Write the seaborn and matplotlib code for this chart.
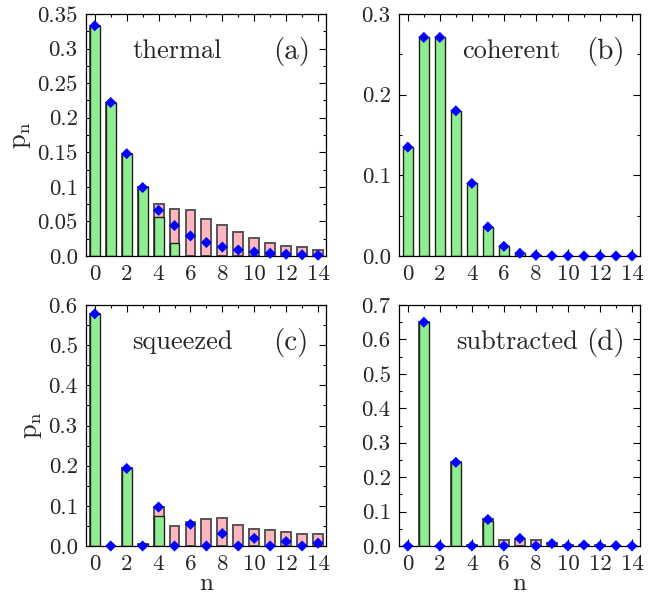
import matplotlib
matplotlib.use("Agg")
import matplotlib.pyplot as plt
import seaborn as sns
import numpy as np
import pandas as pd
from matplotlib.ticker import MultipleLocator, FuncFormatter

sns.set_theme(style="white")
plt.rcParams['font.family'] = ['cmr10', 'DejaVu Serif']
plt.rcParams['mathtext.fontset'] = 'cm'
plt.rcParams['axes.formatter.use_mathtext'] = True

n = list(range(15))

# (a) thermal
thermal_green = [0.333, 0.222, 0.148, 0.100, 0.057, 0.019, 0, 0, 0, 0, 0, 0, 0, 0, 0]
thermal_pink = [0.333, 0.222, 0.148, 0.100, 0.075, 0.068, 0.066, 0.054, 0.045, 0.035, 0.026, 0.019, 0.015, 0.013, 0.009]
thermal_diam = [0.333, 0.222, 0.148, 0.099, 0.066, 0.044, 0.029, 0.0195, 0.013, 0.0087, 0.0058, 0.0039, 0.0026, 0.0017, 0.0011]

# (b) coherent
coherent_green = [0.135, 0.271, 0.271, 0.180, 0.090, 0.036, 0.012, 0.0034, 0.0009, 0.0002, 0, 0, 0, 0, 0]
coherent_pink = [0] * 15
coherent_diam = [0.135, 0.271, 0.271, 0.180, 0.090, 0.036, 0.012, 0.0034, 0.0009, 0.0002, 0.00004, 0, 0, 0, 0]

# (c) squeezed
squeezed_green = [0.578, 0, 0.193, 0.004, 0.075, 0, 0, 0, 0, 0, 0, 0, 0, 0, 0]
squeezed_pink = [0.578, 0, 0.193, 0.004, 0.097, 0.051, 0.060, 0.066, 0.069, 0.053, 0.043, 0.039, 0.036, 0.031, 0.029]
squeezed_diam = [0.578, 0, 0.193, 0, 0.097, 0, 0.054, 0, 0.031, 0, 0.019, 0, 0.011, 0, 0.007]

# (d) subtracted
subtracted_green = [0, 0.650, 0, 0.243, 0.002, 0.073, 0, 0, 0, 0, 0, 0, 0, 0, 0]
subtracted_pink = [0, 0.650, 0, 0.243, 0.002, 0.077, 0.018, 0.021, 0.018, 0.008, 0.004, 0.003, 0.002, 0.001, 0.0005]
subtracted_diam = [0, 0.650, 0, 0.243, 0, 0.077, 0, 0.022, 0, 0.007, 0, 0.003, 0, 0.001, 0]

panels = [
    ("thermal", "(a)", thermal_green, thermal_pink, thermal_diam, 0.35, 0.05, 0.025, 0.38),
    ("coherent", "(b)", coherent_green, coherent_pink, coherent_diam, 0.3, 0.1, 0.05, 0.465),
    ("squeezed", "(c)", squeezed_green, squeezed_pink, squeezed_diam, 0.6, 0.1, 0.05, 0.40),
    ("subtracted", "(d)", subtracted_green, subtracted_pink, subtracted_diam, 0.7, 0.1, 0.05, 0.49),
]

fig = plt.figure(figsize=(6.54, 5.95), dpi=100)
W, H = 654, 595
rects = [(86, 14, 326, 256), (399, 14, 640, 256), (86, 305, 326, 546), (399, 305, 640, 546)]

def fmt(v, pos):
    if abs(v) < 1e-9:
        return "0.0"
    return ("%.2f" % v).rstrip('0')

for i, (name, lab, g, p, d, ymax, major, minor, tx) in enumerate(panels):
    x0, y0, x1, y1 = rects[i]
    ax = fig.add_axes([x0 / W, 1 - y1 / H, (x1 - x0) / W, (y1 - y0) / H])
    df = pd.DataFrame({"n": n, "green": g, "pink": p, "diam": d})
    sns.barplot(data=df, x="n", y="pink", ax=ax, color="#ffb6c1", saturation=1,
                width=0.62, edgecolor="#555555", linewidth=1.4, native_scale=True)
    sns.barplot(data=df, x="n", y="green", ax=ax, color="#90ee90", saturation=1,
                width=0.62, edgecolor="#222222", linewidth=1.0, native_scale=True)
    sns.scatterplot(data=df, x="n", y="diam", ax=ax, marker="D", color="#0000ff",
                    s=32, edgecolor="none", zorder=5, clip_on=False)
    ax.set_xlim(-0.55, 14.5)
    ax.set_ylim(0, ymax)
    ax.xaxis.set_major_locator(MultipleLocator(2))
    ax.xaxis.set_minor_locator(MultipleLocator(1))
    ax.yaxis.set_major_locator(MultipleLocator(major))
    ax.yaxis.set_minor_locator(MultipleLocator(minor))
    ax.xaxis.set_major_formatter(FuncFormatter(lambda v, pos: "%d" % round(v)))
    ax.yaxis.set_major_formatter(FuncFormatter(fmt))
    ax.tick_params(which="both", direction="in", top=True, right=True,
                   bottom=True, left=True, color="black", labelsize=16.5, width=0.8)
    ax.tick_params(which="major", length=5, pad=6)
    ax.tick_params(which="minor", length=2.5)
    for sp in ax.spines.values():
        sp.set_color("black")
        sp.set_linewidth(0.9)
    ax.set_xlabel("n" if i >= 2 else "", fontsize=18, labelpad=-1)
    ax.set_ylabel(r"$\mathrm{p_n}$" if i % 2 == 0 else "", fontsize=19, labelpad=3)
    ax.text(tx, 0.845, name, transform=ax.transAxes, fontsize=19, ha="center", va="center")
    ax.text(0.855, 0.845, lab, transform=ax.transAxes, fontsize=21, ha="center", va="center")
    if ax.get_legend():
        ax.get_legend().remove()

fig.savefig("out.png", dpi=100)
